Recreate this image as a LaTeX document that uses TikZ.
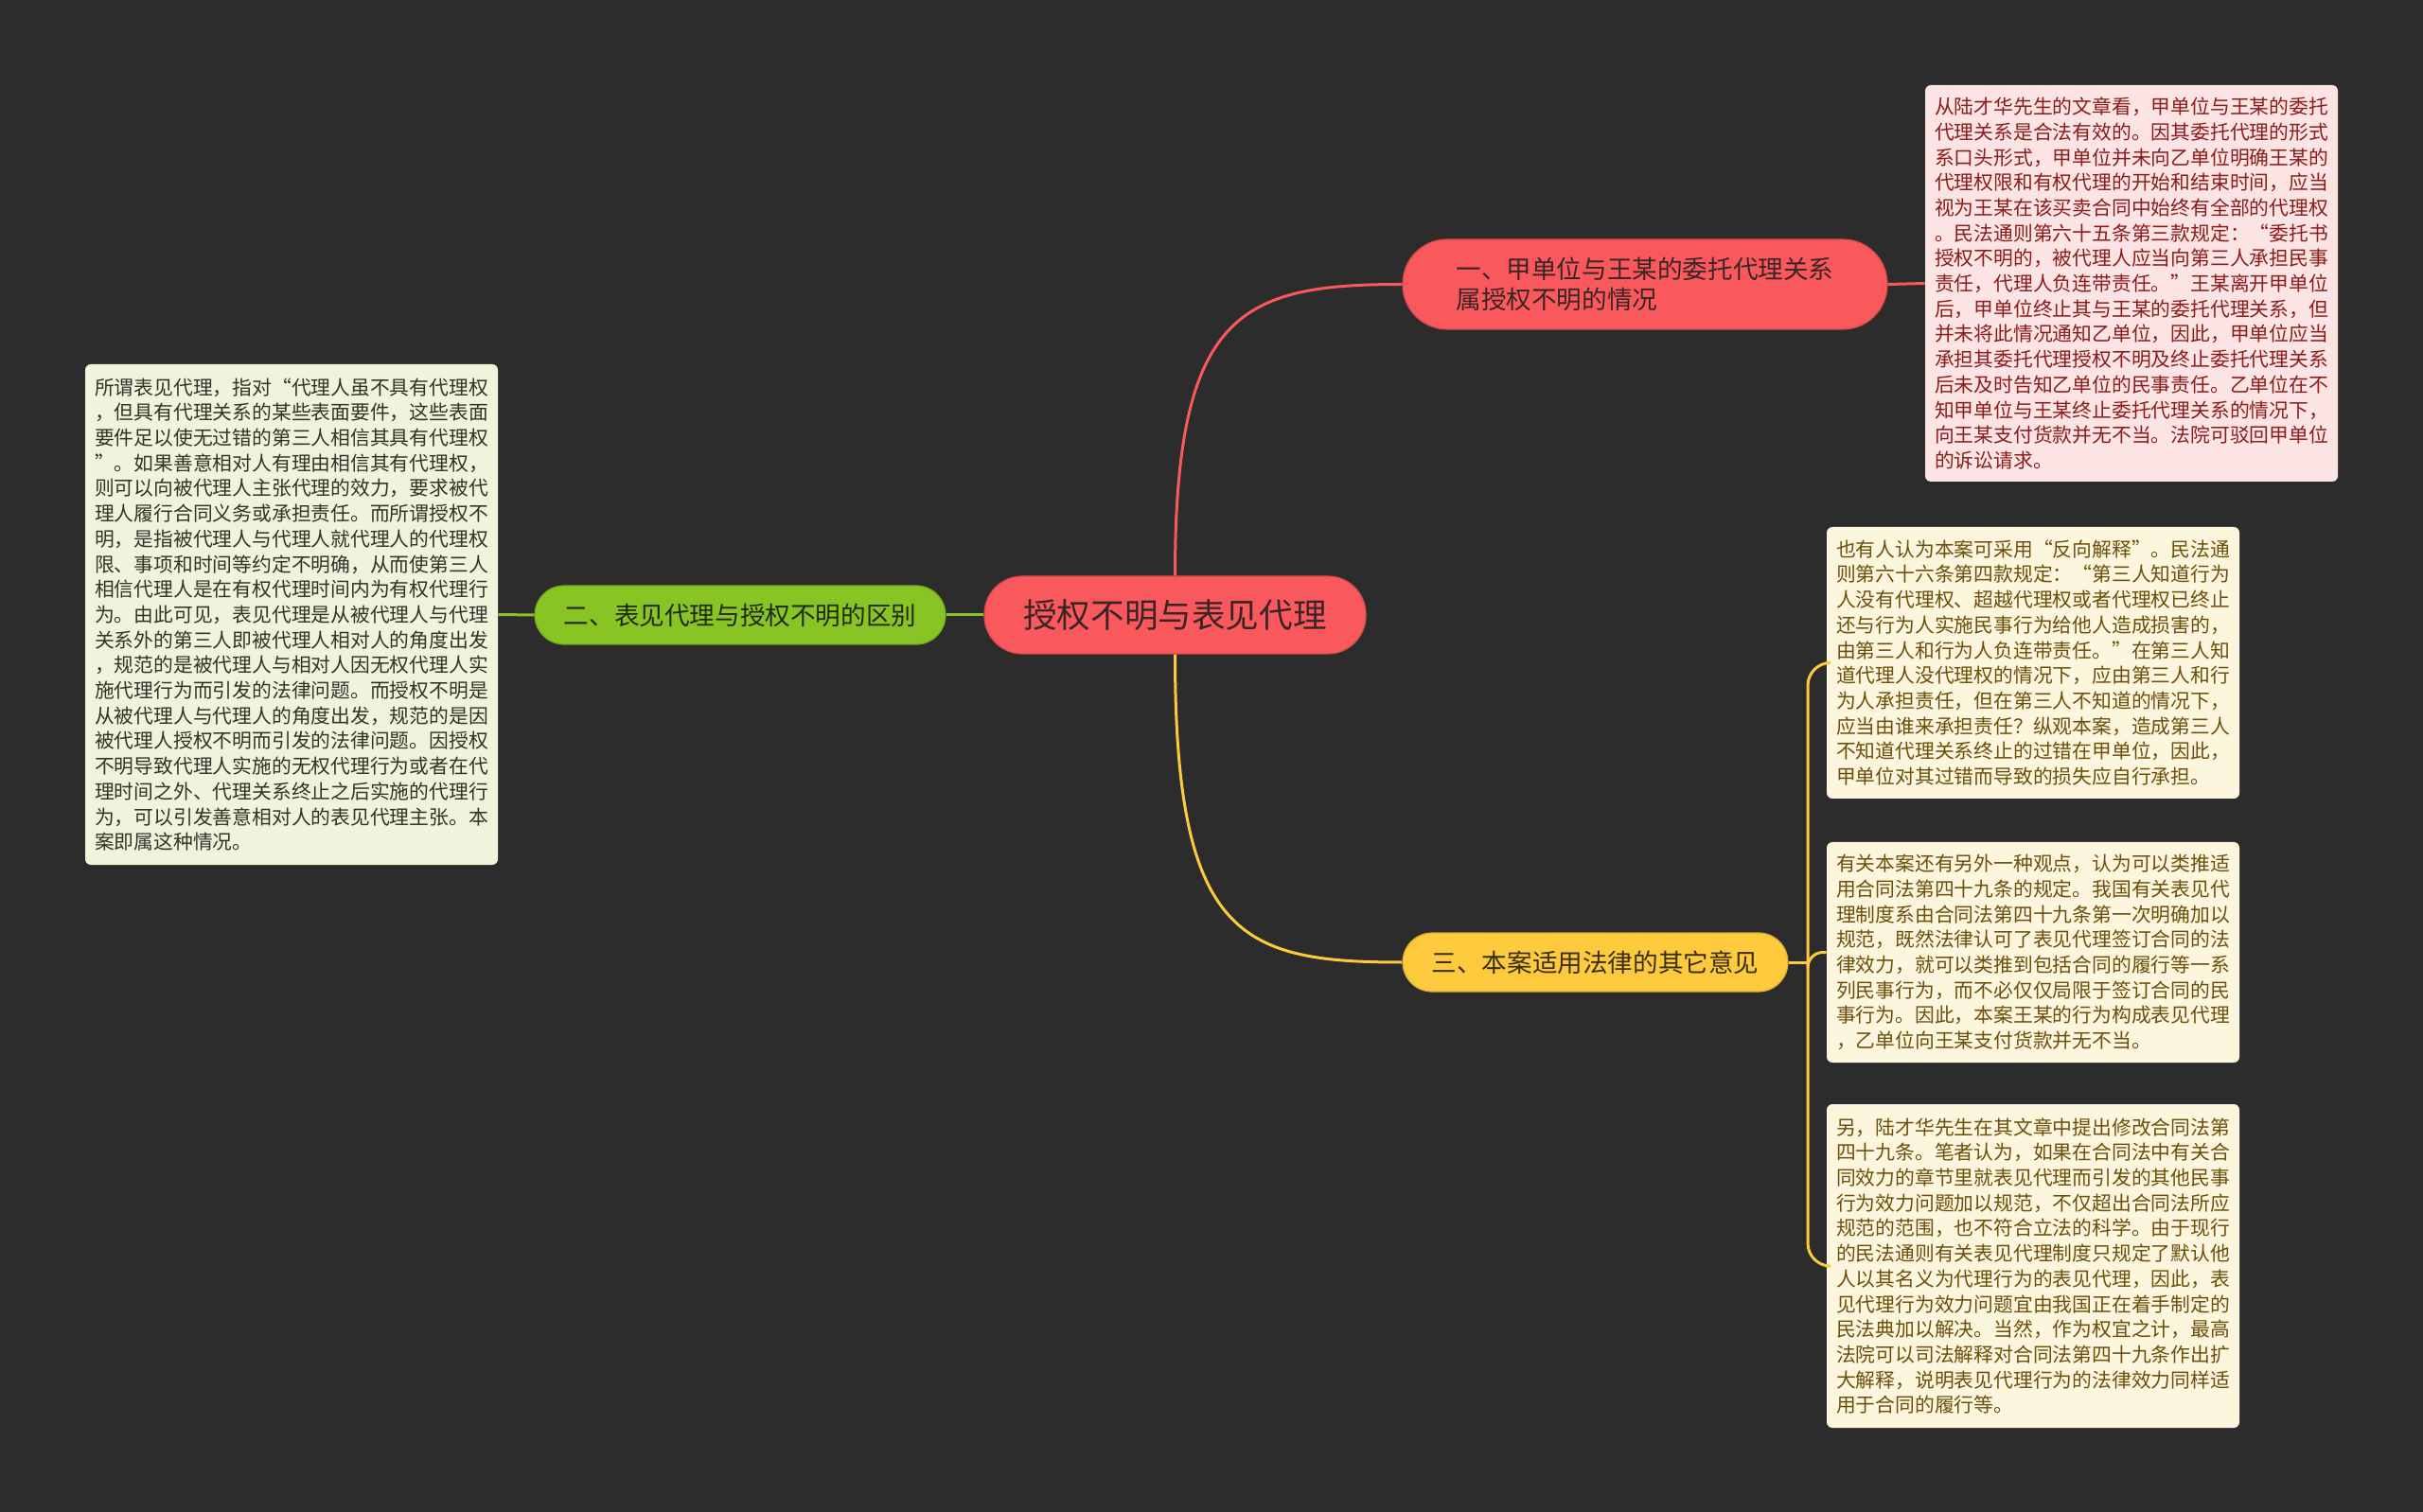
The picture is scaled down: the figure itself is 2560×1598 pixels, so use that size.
\documentclass[tikz,border=0pt]{standalone}
\usepackage{fontspec}
\setmainfont{Noto Sans CJK SC}
\newfontfamily\cjk{Noto Sans CJK SC}
\definecolor{bg}{HTML}{2C2C2C}
\definecolor{mred}{HTML}{F9585C}
\definecolor{mgreen}{HTML}{89C425}
\definecolor{myellow}{HTML}{FCCA3C}
\definecolor{rootText}{HTML}{3A2526}
\definecolor{gText}{HTML}{1F2A10}
\definecolor{yText}{HTML}{3A2E10}
\definecolor{pinkFill}{HTML}{FDE4E4}
\definecolor{pinkText}{HTML}{8A1C1C}
\definecolor{lgFill}{HTML}{EEF5DC}
\definecolor{lgText}{HTML}{333328}
\definecolor{crFill}{HTML}{FDF6DE}
\definecolor{crText}{HTML}{6B4F0A}
\tikzset{
  leafbox/.style={rectangle, rounded corners=3pt, inner sep=0pt, minimum width=218pt, align=left,
     font=\cjk\fontsize{10.4pt}{13.35pt}\selectfont},
  pill/.style={rectangle, inner sep=0pt, align=left, font=\cjk\fontsize{13.3pt}{15.7pt}\selectfont},
  conn/.style={line width=1.5pt}
}
\begin{document}
\begin{tikzpicture}[x=0.5pt,y=-0.5pt]
\useasboundingbox (0,0) rectangle (2560,1598);
\fill[bg] (0,0) rectangle (2560,1598);

% root
\node[rectangle, fill=mred, draw=mred!85!black, line width=0.6pt, rounded corners=20pt, minimum width=201.5pt, minimum height=41pt,
  text=rootText, font=\cjk\fontsize{17.8pt}{20pt}\selectfont] (root) at (1241.5,650) {授权不明与表见代理};

% branches
\node[pill, fill=mred, draw=mred!85!black, line width=0.6pt, rounded corners=23.5pt, minimum width=256pt, minimum height=47.5pt, text=rootText]
  (b1) at (1738,300.5) {一、甲单位与王某的委托代理关系\\属授权不明的情况};
\node[pill, fill=mgreen, draw=mgreen!85!black, line width=0.6pt, rounded corners=15.5pt, minimum width=217pt, minimum height=31pt, text=gText]
  (b2) at (782,650) {二、表见代理与授权不明的区别};
\node[pill, fill=myellow, draw=myellow!85!black, line width=0.6pt, rounded corners=15.5pt, minimum width=203.5pt, minimum height=31pt, text=yText]
  (b3) at (1685.5,1017) {三、本案适用法律的其它意见};

% leaves
\node[leafbox, fill=pinkFill, text=pinkText, minimum height=209.5pt] (l1) at (2252,299.5) {从陆才华先生的文章看，甲单位与王某的委托\\代理关系是合法有效的。因其委托代理的形式\\系口头形式，甲单位并未向乙单位明确王某的\\代理权限和有权代理的开始和结束时间，应当\\视为王某在该买卖合同中始终有全部的代理权\\。民法通则第六十五条第三款规定：“委托书\\授权不明的，被代理人应当向第三人承担民事\\责任，代理人负连带责任。”王某离开甲单位\\后，甲单位终止其与王某的委托代理关系，但\\并未将此情况通知乙单位，因此，甲单位应当\\承担其委托代理授权不明及终止委托代理关系\\后未及时告知乙单位的民事责任。乙单位在不\\知甲单位与王某终止委托代理关系的情况下，\\向王某支付货款并无不当。法院可驳回甲单位\\的诉讼请求。};

\node[leafbox, fill=lgFill, text=lgText, minimum height=264.5pt] (l2) at (308,649.5) {所谓表见代理，指对“代理人虽不具有代理权\\，但具有代理关系的某些表面要件，这些表面\\要件足以使无过错的第三人相信其具有代理权\\”。如果善意相对人有理由相信其有代理权，\\则可以向被代理人主张代理的效力，要求被代\\理人履行合同义务或承担责任。而所谓授权不\\明，是指被代理人与代理人就代理人的代理权\\限、事项和时间等约定不明确，从而使第三人\\相信代理人是在有权代理时间内为有权代理行\\为。由此可见，表见代理是从被代理人与代理\\关系外的第三人即被代理人相对人的角度出发\\，规范的是被代理人与相对人因无权代理人实\\施代理行为而引发的法律问题。而授权不明是\\从被代理人与代理人的角度出发，规范的是因\\被代理人授权不明而引发的法律问题。因授权\\不明导致代理人实施的无权代理行为或者在代\\理时间之外、代理关系终止之后实施的代理行\\为，可以引发善意相对人的表见代理主张。本\\案即属这种情况。};

\node[leafbox, fill=crFill, text=crText, minimum height=143.5pt] (l3a) at (2148,700.5) {也有人认为本案可采用“反向解释”。民法通\\则第六十六条第四款规定：“第三人知道行为\\人没有代理权、超越代理权或者代理权已终止\\还与行为人实施民事行为给他人造成损害的，\\由第三人和行为人负连带责任。”在第三人知\\道代理人没代理权的情况下，应由第三人和行\\为人承担责任，但在第三人不知道的情况下，\\应当由谁来承担责任？纵观本案，造成第三人\\不知道代理关系终止的过错在甲单位，因此，\\甲单位对其过错而导致的损失应自行承担。};

\node[leafbox, fill=crFill, text=crText, minimum height=116.5pt] (l3b) at (2148,1006.5) {有关本案还有另外一种观点，认为可以类推适\\用合同法第四十九条的规定。我国有关表见代\\理制度系由合同法第四十九条第一次明确加以\\规范，既然法律认可了表见代理签订合同的法\\律效力，就可以类推到包括合同的履行等一系\\列民事行为，而不必仅仅局限于签订合同的民\\事行为。因此，本案王某的行为构成表见代理\\，乙单位向王某支付货款并无不当。};

\node[leafbox, fill=crFill, text=crText, minimum height=171pt] (l3c) at (2148,1338) {另，陆才华先生在其文章中提出修改合同法第\\四十九条。笔者认为，如果在合同法中有关合\\同效力的章节里就表见代理而引发的其他民事\\行为效力问题加以规范，不仅超出合同法所应\\规范的范围，也不符合立法的科学。由于现行\\的民法通则有关表见代理制度只规定了默认他\\人以其名义为代理行为的表见代理，因此，表\\见代理行为效力问题宜由我国正在着手制定的\\民法典加以解决。当然，作为权宜之计，最高\\法院可以司法解释对合同法第四十九条作出扩\\大解释，说明表见代理行为的法律效力同样适\\用于合同的履行等。};

% connectors
\draw[conn, mred] (root.north) .. controls (1241.5,330) and (1310,300.5) .. (b1.west);
\draw[conn, myellow] (root.south) .. controls (1241.5,990) and (1310,1017) .. (b3.west);
\draw[conn, mgreen] (root.west) -- (b2.east);
\draw[conn, mgreen] (b2.west) -- (l2.east);
\draw[conn, mred] (b1.east) -- (l1.west);
\coordinate (j) at (1910,1017);
\draw[conn, myellow] (b3.east) -- (j);
\draw[conn, myellow, rounded corners=12pt] (j) -- (j |- l3a.west) -- (l3a.west);
\draw[conn, myellow, rounded corners=8pt] (j) -- (1910,1006.5) -- (l3b.west);
\draw[conn, myellow, rounded corners=12pt] (j) -- (j |- l3c.west) -- (l3c.west);
\end{tikzpicture}
\end{document}
